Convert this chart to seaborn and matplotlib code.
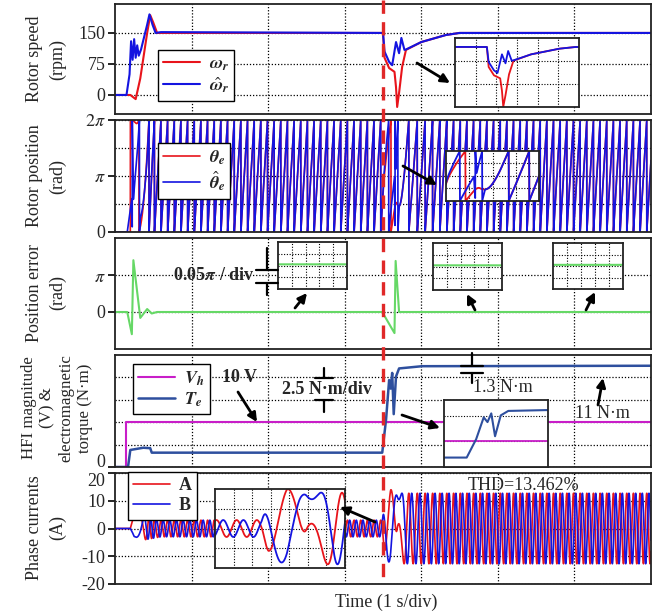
import numpy as np
import matplotlib
matplotlib.use('Agg')
import matplotlib.pyplot as plt
import matplotlib.transforms as mtransforms
from matplotlib.lines import Line2D
from matplotlib.patches import FancyArrowPatch
import seaborn as sns

sns.set_theme(style='white')
plt.rcParams['font.family'] = ['Liberation Serif', 'DejaVu Serif']
plt.rcParams['mathtext.fontset'] = 'stix'
plt.rcParams['axes.unicode_minus'] = False

W, H = 672, 614

# ---- values ----
t_step = 3.5          # load step (s)
t_end = 7.0
pole_pairs = 4.6      # electrical cycles per mechanical revolution (visual match)

# rotor speed, rpm
t_w = [0, 0.2, 0.27, 0.33, 0.42, 0.46, 0.5, 0.55, 3.5, 3.52, 3.58, 3.65, 3.67,
       3.685, 3.71, 3.75, 3.8, 4.0, 4.32, 4.5, 7.0]
w_r = [0, 0, -10, 40, 150, 193, 175, 150, 150, 90, 65, 56, 19,
       -29, 5, 68, 109, 128, 145, 150, 150]
t_west = [0, 0.15, 0.19, 0.21, 0.23, 0.25, 0.27, 0.29, 0.31, 0.34, 0.38, 0.42,
          0.45, 0.49, 0.53, 0.6, 3.5, 3.52, 3.58, 3.62, 3.67, 3.71, 3.74, 3.78,
          3.8, 4.0, 4.32, 4.5, 7.0]
w_est = [0, 0, 50, 130, 85, 135, 90, 120, 95, 110, 140, 170,
         195, 170, 150, 152, 150, 105, 80, 72, 128, 101, 138, 109,
         110, 128, 145, 150, 150]

# position error, in units of pi rad
t_err = [0, 0.16, 0.22, 0.24, 0.33, 0.42, 0.48, 0.55, 3.49, 3.65, 3.665, 3.71, 7.0]
err_pi = [0, 0, -0.6, 1.4, -0.16, 0.08, -0.04, 0, 0, -0.57, 1.38, 0, 0]

# HFI magnitude (V) and electromagnetic torque (N.m)
t_vh = [0, 0.15, 0.15, 7.0]
vh = [0, 0, 10, 10]
t_te = [0, 0.17, 0.2, 0.37, 0.46, 0.48, 3.49, 3.54, 3.58, 3.6, 3.62, 3.64,
        3.67, 3.71, 4.01, 7.0]
te = [0, 0, 1.9, 2.15, 2.1, 1.6, 1.6, 5.3, 9.7, 8.75, 10.5, 5.9,
      10.1, 11.0, 11.25, 11.3]

# phase current amplitude envelope (A)
t_amp = [0, 0.2, 0.25, 0.4, 0.6, 3.49, 3.52, 3.6, 3.75, 7.0]
amp = [0, 0, 5, 4, 3, 3, 8, 14, 12.7, 12.7]

# ---- derived traces ----
t = np.arange(0, t_end + 0.0005, 0.001)
w_fine = np.interp(t, t_w, w_r)
theta = np.cumsum(w_fine / 60 * 2 * np.pi * pole_pairs) * 0.001
err_fine = np.interp(t, t_err, err_pi) * np.pi
theta_e = np.mod(theta, 2 * np.pi)
theta_hat = np.mod(theta - err_fine, 2 * np.pi)
amp_fine = np.interp(t, t_amp, amp)
i_a = amp_fine * np.cos(theta)
i_b = amp_fine * np.cos(theta - 2 * np.pi / 3)
vh_plot = np.array(vh) / 2.0       # 5 V/div against 2.5 N.m/div

RED = '#E8141B'
BLUE = '#1414E0'
GREEN = '#66D866'
MAG = '#C81EC8'
TEB = '#2E4F9E'


def rect(l, t_, r, b):
    return [l / W, 1 - b / H, (r - l) / W, (b - t_) / H]


def fpt(x, y):
    return (x / W, 1 - y / H)


fig = plt.figure(figsize=(6.72, 6.14), dpi=100)
rows = [(4, 114), (120, 232), (238, 349), (355, 467), (473, 584)]
axes = [fig.add_axes(rect(115, a, 651, b)) for a, b in rows]

for ax in axes:
    ax.set_facecolor('white')
    ax.set_xlim(0, t_end)
    ax.set_xticks(np.arange(1, 7))
    ax.set_xticklabels([])
    ax.tick_params(axis='x', length=0)
    ax.tick_params(axis='y', which='major', direction='out', length=5, width=1.2,
                   color='black', labelsize=13, pad=2, left=True)
    ax.tick_params(axis='y', which='minor', length=0)
    for s in ax.spines.values():
        s.set_color('#222222')
        s.set_linewidth(1.3)
    ax.grid(True, which='both', color='black', linestyle=(0, (1, 1.5)), linewidth=0.9)
    ax.set_axisbelow(True)

leg_kw = dict(loc='upper left', borderaxespad=0, frameon=True, fancybox=False,
              edgecolor='black', framealpha=1, fontsize=13, handlelength=2.0,
              labelspacing=0.15, borderpad=0.3, handletextpad=0.5,
              bbox_transform=fig.transFigure)

# panel 1: rotor speed
ax = axes[0]
sns.lineplot(x=t_w, y=w_r, ax=ax, color=RED, lw=1.5, estimator=None, sort=False,
             label=r'$\mathbfit{\omega}_\mathbfit{r}$')
sns.lineplot(x=t_west, y=w_est, ax=ax, color=BLUE, lw=1.5, estimator=None, sort=False,
             label=r'$\hat{\mathbfit{\omega}}_\mathbfit{r}$')
ax.set_ylim(-46, 220)
ax.set_yticks([0, 75, 150])
ax.legend(bbox_to_anchor=fpt(158, 50), **leg_kw)

# panel 2: rotor position
ax = axes[1]
sns.lineplot(x=t, y=theta_e, ax=ax, color=RED, lw=1.2, estimator=None, sort=False,
             label=r'$\mathbfit{\theta}_\mathbfit{e}$')
sns.lineplot(x=t, y=theta_hat, ax=ax, color=BLUE, lw=1.2, estimator=None, sort=False,
             label=r'$\hat{\mathbfit{\theta}}_\mathbfit{e}$')
ax.set_ylim(0, 2 * np.pi)
ax.set_yticks([0, np.pi, 2 * np.pi])
ax.set_yticklabels(['0', r'$\pi$', r'$2\pi$'])
ax.set_yticks([np.pi / 2, 3 * np.pi / 2], minor=True)
ax.legend(bbox_to_anchor=fpt(158, 143), **leg_kw)

# panel 3: position error
ax = axes[2]
sns.lineplot(x=t_err, y=np.array(err_pi) * np.pi, ax=ax, color=GREEN, lw=1.5,
             estimator=None, sort=False)
ax.set_ylim(-np.pi, 2 * np.pi)
ax.set_yticks([0, np.pi])
ax.set_yticklabels(['0', r'$\pi$'])

# panel 4: HFI magnitude and torque
ax = axes[3]
sns.lineplot(x=t_vh, y=vh_plot, ax=ax, color=MAG, lw=1.5, estimator=None, sort=False,
             label=r'$\mathbfit{V}_\mathbfit{h}$')
sns.lineplot(x=t_te, y=te, ax=ax, color=TEB, lw=1.8, estimator=None, sort=False,
             label=r'$\mathbfit{T}_\mathbfit{e}$')
ax.set_ylim(0, 12.5)
ax.set_yticks([0])
ax.set_yticks([2.5, 5, 7.5, 10], minor=True)
ax.get_yticklabels()[0].set_verticalalignment('baseline')
ax.legend(bbox_to_anchor=fpt(133, 364), **leg_kw)

# panel 5: phase currents
ax = axes[4]
sns.lineplot(x=t, y=i_a, ax=ax, color=RED, lw=1.2, estimator=None, sort=False, label='A')
sns.lineplot(x=t, y=i_b, ax=ax, color=BLUE, lw=1.2, estimator=None, sort=False, label='B')
ax.set_ylim(-20, 20)
ax.set_yticks([-20, -10, 0, 10, 20])
ax.get_yticklabels()[-1].set_verticalalignment('top')
leg = ax.legend(bbox_to_anchor=fpt(128, 472), **leg_kw)
for txt in leg.get_texts():
    txt.set_fontweight('bold')


# ---- insets ----
def inset(box, xlim, ylim, nx, ny, vgrid=True):
    ia = fig.add_axes(rect(*box))
    ia.set_facecolor('white')
    ia.set_xlim(*xlim)
    ia.set_ylim(*ylim)
    ia.set_xticks(np.linspace(xlim[0], xlim[1], nx + 1)[1:-1] if vgrid else [])
    ia.set_yticks(np.linspace(ylim[0], ylim[1], ny + 1)[1:-1])
    ia.set_xticklabels([])
    ia.set_yticklabels([])
    ia.tick_params(length=0)
    ia.grid(True, color='black', linestyle=(0, (1, 1.5)), linewidth=0.8)
    ia.set_axisbelow(True)
    for s in ia.spines.values():
        s.set_color('#222222')
        s.set_linewidth(1.3)
    return ia


ia = inset((455, 38, 579, 107), (3.14, 4.54), (-30, 177), 6, 3)
sns.lineplot(x=t_w, y=w_r, ax=ia, color=RED, lw=1.3, estimator=None, sort=False)
sns.lineplot(x=t_west, y=w_est, ax=ia, color=BLUE, lw=1.3, estimator=None, sort=False)

ia = inset((446, 151, 539, 201), (3.5, 4.0), (0, 2 * np.pi), 4, 4)
sns.lineplot(x=t, y=theta_e, ax=ia, color=RED, lw=1.3, estimator=None, sort=False)
sns.lineplot(x=t, y=theta_hat, ax=ia, color=BLUE, lw=1.3, estimator=None, sort=False)

for box, win in [((278, 242, 347, 289), (2.0, 3.0)),
                 ((433, 243, 502, 290), (4.4, 5.4)),
                 ((553, 243, 623, 289), (5.9, 6.9))]:
    ia = inset(box, win, (-0.105 * np.pi, 0.095 * np.pi), 5, 4)
    sns.lineplot(x=t_err, y=np.array(err_pi) * np.pi, ax=ia, color=GREEN, lw=1.5,
                 estimator=None, sort=False)

ia = inset((444, 400, 548, 467), (3.37, 3.92), (-0.3, 13.2), 1, 1, vgrid=False)
ia.set_yticks([5, 10])
sns.lineplot(x=t_vh, y=vh_plot, ax=ia, color=MAG, lw=1.3, estimator=None, sort=False)
sns.lineplot(x=t_te, y=te, ax=ia, color=TEB, lw=1.5, estimator=None, sort=False)

ia = inset((215, 489, 345, 568), (3.29, 3.85), (-14, 14), 7, 4)
sns.lineplot(x=t, y=i_a, ax=ia, color=RED, lw=1.3, estimator=None, sort=False)
sns.lineplot(x=t, y=i_b, ax=ia, color=BLUE, lw=1.3, estimator=None, sort=False)

for a in fig.axes:
    a.set_xlabel('')
    a.set_ylabel('')

# ---- load step marker ----
blend = mtransforms.blended_transform_factory(axes[0].transData, fig.transFigure)
fig.add_artist(Line2D([t_step, t_step], [1.0, 1 - 584 / H], transform=blend,
                      color='#E02828', lw=2.4, dashes=(4, 2.5)))

# ---- arrows ----
arrows = [((417, 63), (450, 83)), ((403, 166), (437, 185)),
          ((295, 308), (307, 293)), ((475, 310), (467, 294)), ((586, 310), (595, 292)),
          ((238, 392), (257, 422)), ((402, 415), (440, 428)), ((598, 405), (603, 378)),
          ((375, 522), (340, 507))]
for a0, a1 in arrows:
    fig.add_artist(FancyArrowPatch(fpt(*a0), fpt(*a1), transform=fig.transFigure,
                                   arrowstyle='-|>', mutation_scale=13, lw=2.0,
                                   color='black', shrinkA=0, shrinkB=0))


def scale_mark(xc, y0, yb1, yb2, y1, half):
    for xs, ys in [([xc, xc], [y0, yb1]), ([xc, xc], [yb2, y1]),
                   ([xc - half, xc + half], [yb1, yb1]),
                   ([xc - half, xc + half], [yb2, yb2])]:
        fig.add_artist(Line2D([x / W for x in xs], [1 - y / H for y in ys],
                              transform=fig.transFigure, color='black', lw=1.6))


scale_mark(267, 248, 270, 283, 295, 11)
scale_mark(324, 368, 378, 400, 412, 9)
scale_mark(472, 353, 366, 373, 383, 11)


# ---- texts ----
def ftext(x, y, s, **kw):
    fig.text(x / W, 1 - y / H, s, ha='center', va='center', **kw)


ftext(214, 275, r'0.05$\mathbfit{\pi}$ / div', fontsize=13, fontweight='bold')
ftext(240, 378, '10 V', fontsize=13, fontweight='bold')
ftext(327, 390, '2.5 N·m/div', fontsize=13, fontweight='bold')
ftext(503, 388, '1.3 N·m', fontsize=13)
ftext(602, 413, '11 N·m', fontsize=13)
ftext(524, 485, 'THD=13.462%', fontsize=13)
ftext(386, 602, 'Time (1 s/div)', fontsize=13)

ylabels = [('Rotor speed\n(rpm)', 46, 59, 13, 1.5),
           ('Rotor position\n(rad)', 46, 176, 13, 1.5),
           ('Position error\n(rad)', 46, 293, 13, 1.5),
           ('HFI magnitude\n(V) &\nelectromagnetic\ntorque (N·m)', 57, 408, 12.2, 1.2),
           ('Phase currents\n(A)', 46, 528, 13, 1.5)]
for s, xc, yc, fs, ls in ylabels:
    fig.text(xc / W, 1 - yc / H, s, rotation=90, ha='center', va='center',
             multialignment='center', fontsize=fs, linespacing=ls)

fig.savefig('out.png', dpi=100)
